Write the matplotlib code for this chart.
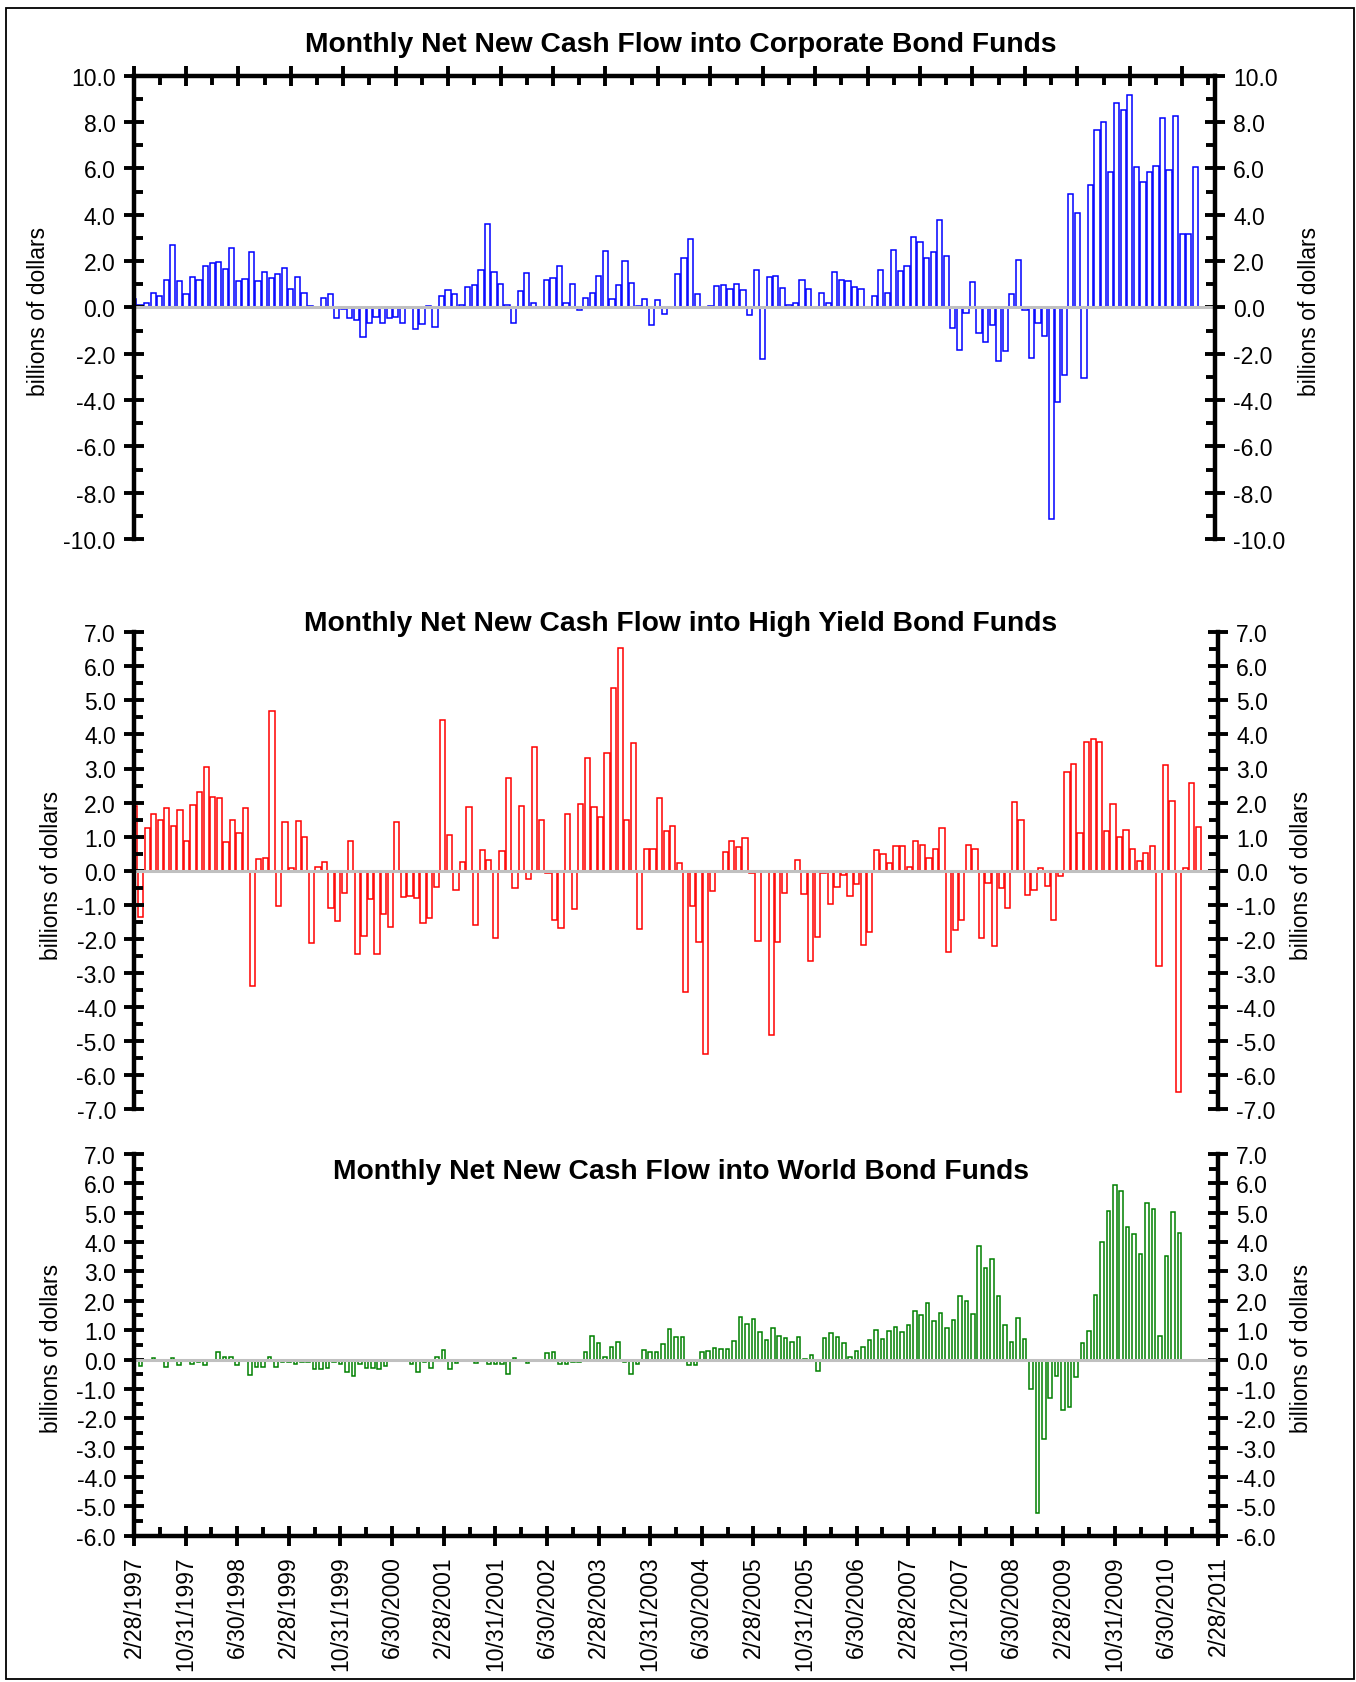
import numpy as np
import matplotlib
matplotlib.use("Agg")
import matplotlib.pyplot as plt
from matplotlib.ticker import MultipleLocator, FixedLocator
from matplotlib.patches import Rectangle

plt.rcParams['font.family'] = ['Liberation Sans', 'DejaVu Sans']
plt.rcParams['axes.unicode_minus'] = False

# monthly net new cash flow, billions of dollars, starting Feb 1997
corporate = [
    0.35, 0.12, 0.19, 0.61, 0.51, 1.16, 2.68, 1.12, 0.59, 1.33,
    1.19, 1.78, 1.91, 1.97, 1.65, 2.57, 1.14, 1.23, 2.39, 1.13,
    1.52, 1.28, 1.42, 1.72, 0.78, 1.33, 0.64, 0.04, 0.01, 0.42,
    0.59, -0.45, -0.05, -0.45, -0.55, -1.26, -0.66, -0.41, -0.66, -0.44,
    -0.43, -0.66,
    0.03, -0.94, -0.72, 0.04, -0.84, 0.51, 0.74, 0.57, 0.09, 0.87,
    0.96, 1.62, 3.61, 1.51, 0.99, 0.12, -0.68, 0.72, 1.48, 0.19,
    0.03, 1.16, 1.28, 1.78, 0.17, 0.99, -0.13, 0.42, 0.64, 1.35,
    2.43, 0.38, 0.96, 2.01, 1.03, 0.04, 0.35, -0.75, 0.30, -0.30,
    0.03, 1.45, 2.13, 2.97,
    0.58, 0.00, 0.07, 0.91, 0.96, 0.78, 1.00, 0.77, -0.33, 1.61,
    -2.23, 1.33, 1.35, 0.83, 0.09, 0.19, 1.17, 0.81, 0.00, 0.62,
    0.19, 1.51, 1.16, 1.12, 0.87, 0.78, -0.02, 0.48, 1.61, 0.64,
    2.48, 1.57, 1.80, 3.03, 2.84, 2.14, 2.38, 3.77, 2.20, -0.88,
    -1.86, -0.26,
    1.09, -1.12, -1.48, -0.78, -2.32, -1.88, 0.57, 2.04, -0.10, -2.17,
    -0.68, -1.23, -9.13, -4.07, -2.93, 4.90, 4.09, -3.06, 5.29, 7.64,
    8.00, 5.86, 8.83, 8.52, 9.17, 6.07, 5.41, 5.86, 6.09, 8.16,
    5.93, 8.25, 3.16, 3.17, 6.04,
]

high_yield = [
    1.90, -1.37, 1.26, 1.66, 1.49, 1.85, 1.30, 1.77, 0.88, 1.92,
    2.31, 3.04, 2.15, 2.14, 0.83, 1.48, 1.10, 1.85, -3.40, 0.33,
    0.37, 4.70, -1.03, 1.42, 0.08, 1.45, 1.00, -2.13, 0.11, 0.24,
    -1.09, -1.47, -0.66, 0.86, -2.45, -1.91, -0.84, -2.45, -1.27, -1.65,
    1.42, -0.77, -0.73,
    -0.81, -1.54, -1.39, -0.49, 4.42, 1.06, -0.57, 0.26, 1.88, -1.61,
    0.62, 0.30, -1.97, 0.58, 2.71, -0.52, 1.91, -0.25, 3.64, 1.49,
    -0.07, -1.45, -1.67, 1.65, -1.14, 1.95, 3.30, 1.88, 1.59, 3.46,
    5.35, 6.55, 1.50, 3.76, -1.70, 0.65, 0.65, 2.12, 1.16, 1.32,
    0.22, -3.57,
    -1.05, -2.11, -5.39, -0.59, -0.05, 0.56, 0.86, 0.69, 0.96, -0.07,
    -2.07, -0.04, -4.82, -2.11, -0.66, 0.00, 0.30, -0.69, -2.66, -1.96,
    -0.06, -0.98, -0.49, -0.13, -0.75, -0.40, -2.18, -1.81, 0.62, 0.50,
    0.23, 0.72, 0.71, 0.12, 0.86, 0.74, 0.36, 0.65, 1.26, -2.40,
    -1.75, -1.44,
    0.75, 0.65, -1.98, -0.35, -2.22, -0.51, -1.11, 2.01, 1.48, -0.71,
    -0.57, 0.07, -0.44, -1.45, -0.17, 2.89, 3.12, 1.12, 3.79, 3.86,
    3.77, 1.15, 1.96, 0.98, 1.19, 0.65, 0.29, 0.53, 0.72, -2.80,
    3.09, 2.04, -6.51, 0.07, 2.57, 1.28,
]

# world bond funds start one month later (Mar 1997)
world = [
    -0.23, -0.05, 0.05, -0.05, -0.25, 0.05, -0.17, 0.00, -0.15, -0.10,
    -0.17, 0.00, 0.26, 0.09, 0.08, -0.17, 0.00, -0.51, -0.27, -0.27,
    0.08, -0.24, -0.08, -0.08, -0.15, -0.08, -0.10, -0.32, -0.32, -0.30,
    -0.07, -0.14, -0.42, -0.57, -0.14, -0.30, -0.30, -0.32, -0.22, 0.00,
    0.00, -0.05, -0.16, -0.43, -0.10, -0.28, 0.08, 0.34, -0.31, -0.11,
    0.00, 0.00, -0.11, 0.00, -0.16, -0.16,
    -0.16, -0.50, 0.05, 0.00, -0.11, -0.02, -0.02, 0.23, 0.27, -0.16,
    -0.15, -0.08, -0.10, 0.26, 0.79, 0.58, 0.09, 0.44, 0.60, -0.08,
    -0.50, -0.16, 0.33, 0.27, 0.27, 0.52, 1.03, 0.76, 0.76, -0.19,
    -0.18, 0.25, 0.30, 0.40, 0.35, 0.37, 0.64, 1.46, 1.20, 1.37,
    0.93, 0.67, 1.09, 0.81, 0.72, 0.61, 0.76, 0.03, 0.14, -0.39,
    0.72, 0.91, 0.77, 0.57, 0.09, 0.30, 0.43, 0.67,
    1.02, 0.70, 0.98, 1.10, 0.93, 1.16, 1.66, 1.52, 1.93, 1.32,
    1.59, 1.07, 1.34, 2.17, 1.99, 1.56, 3.87, 3.12, 3.42, 2.17,
    1.16, 0.60, 1.42, 0.69, -1.00, -5.21, -2.72, -1.31, -0.56, -1.71,
    -1.62, -0.59, 0.58, 0.98, 2.21, 4.00, 5.06, 5.95, 5.75, 4.51,
    4.27, 3.60, 5.33, 5.12, 0.81, 3.51, 5.03, 4.31,
]

date_labels = [
    '2/28/1997', '10/31/1997', '6/30/1998', '2/28/1999', '10/31/1999',
    '6/30/2000', '2/28/2001', '10/31/2001', '6/30/2002', '2/28/2003',
    '10/31/2003', '6/30/2004', '2/28/2005', '10/31/2005', '6/30/2006',
    '2/28/2007', '10/31/2007', '6/30/2008', '2/28/2009', '10/31/2009',
    '6/30/2010', '2/28/2011',
]

FS = 16.5
SPINE_W = 3.2


def style_axes(ax, ymin, ymax, ystep, xmax):
    ax.set_xlim(0, xmax)
    ax.set_ylim(ymin, ymax)
    ax.yaxis.set_major_locator(MultipleLocator(ystep))
    ax.yaxis.set_minor_locator(MultipleLocator(ystep / 2))
    ax.yaxis.set_major_formatter(plt.FormatStrFormatter('%.1f'))
    for side in ['top', 'bottom']:
        ax.spines[side].set_visible(False)
    for side in ['left', 'right']:
        ax.spines[side].set_linewidth(SPINE_W)
    ax.tick_params(axis='y', which='major', direction='inout', length=14,
                   width=2.8, left=True, right=True, labelleft=True,
                   labelright=True, labelsize=FS, pad=6)
    ax.tick_params(axis='y', which='minor', direction='in', length=6.5,
                   width=2.8, left=True, right=True)
    ax.tick_params(axis='x', which='both', bottom=False, top=False,
                   labelbottom=False, labeltop=False)
    ax.axhline(0, color='#c0c0c0', lw=2.2, zorder=2)


def draw_bars(ax, start, values, color, width):
    x = np.arange(start, start + len(values))
    ax.bar(x, values, width=width, facecolor='white', edgecolor=color,
           linewidth=1.1, zorder=1)


def x_ticks(ax, where):
    ax.xaxis.set_major_locator(MultipleLocator(8))
    ax.xaxis.set_minor_locator(MultipleLocator(4))
    ax.spines[where].set_visible(True)
    ax.spines[where].set_linewidth(SPINE_W)
    on = {'top': where == 'top', 'bottom': where == 'bottom'}
    ax.tick_params(axis='x', which='major', direction='inout', length=14,
                   width=2.8, **on)
    ax.tick_params(axis='x', which='minor', direction='in', length=6.5,
                   width=2.8, **on)


W, H = 1356, 1683
fig = plt.figure(figsize=(W / 100, H / 100), dpi=100)

# corporate bond funds
ax1 = fig.add_axes([133.5 / W, 1 - 540 / H, 1081.5 / W, 463.3 / H])
draw_bars(ax1, 0, corporate, '#0000ff', 0.8)
style_axes(ax1, -10, 10, 2, 165)
x_ticks(ax1, 'top')

# high yield bond funds
ax2 = fig.add_axes([134 / W, 1 - 1110 / H, 1084 / W, 476.7 / H])
draw_bars(ax2, 0, high_yield, '#ff0000', 0.8)
style_axes(ax2, -7, 7, 1, 165)

# world bond funds
ax3 = fig.add_axes([134 / W, 1 - 1536.7 / H, 1084 / W, 381.7 / H])
draw_bars(ax3, 1, world, '#008000', 0.55)
style_axes(ax3, -6, 7, 1, 168)
x_ticks(ax3, 'bottom')
ax3.xaxis.set_major_locator(FixedLocator(np.arange(0, 169, 8)))
ax3.set_xticklabels(date_labels, rotation=90, fontsize=FS)
ax3.tick_params(axis='x', which='major', labelbottom=True, pad=7)

titles = [
    ('Monthly Net New Cash Flow into Corporate Bond Funds', 45),
    ('Monthly Net New Cash Flow into High Yield Bond Funds', 624),
    ('Monthly Net New Cash Flow into World Bond Funds', 1172),
]
for text, yc in titles:
    fig.text(681 / W, 1 - yc / H, text, ha='center', va='center',
             fontsize=20.3, fontweight='bold')

for yc, xl, xr in [(311, 38.6, 1310), (875, 51.5, 1302), (1348, 51.5, 1302)]:
    for xc in (xl, xr):
        fig.text(xc / W, 1 - yc / H, 'billions of dollars', rotation=90,
                 ha='center', va='center', fontsize=FS)

# thin frame round the whole page
fig.patches.append(Rectangle((6.4 / W, 3 / H), (1354 - 6.4) / W,
                             (1677 - 6.4) / H, transform=fig.transFigure,
                             fill=False, edgecolor='black', linewidth=1.3))

fig.savefig('out.png', dpi=100, facecolor='white')
